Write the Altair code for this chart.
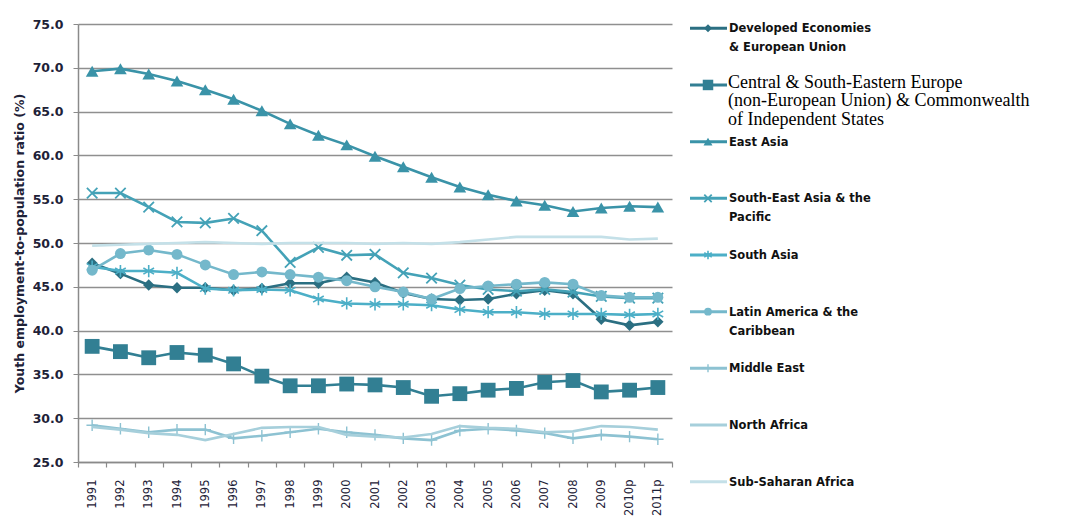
import altair as alt
import pandas as pd

years = ["1991", "1992", "1993", "1994", "1995", "1996", "1997", "1998", "1999", "2000",
         "2001", "2002", "2003", "2004", "2005", "2006", "2007", "2008", "2009", "2010p", "2011p"]

developed = [47.7, 46.5, 45.2, 44.9, 44.9, 44.6, 44.8, 45.4, 45.4, 46.1, 45.5, 44.3, 43.6, 43.5, 43.6, 44.2, 44.6, 44.2, 41.3, 40.6, 41.0]
central = [38.2, 37.6, 36.9, 37.5, 37.2, 36.2, 34.8, 33.7, 33.7, 33.9, 33.8, 33.5, 32.5, 32.8, 33.2, 33.4, 34.1, 34.3, 33.0, 33.2, 33.5]
east_asia = [69.6, 69.9, 69.3, 68.5, 67.5, 66.4, 65.1, 63.6, 62.3, 61.2, 59.9, 58.7, 57.5, 56.4, 55.5, 54.8, 54.3, 53.6, 54.0, 54.2, 54.1]
se_asia = [55.7, 55.7, 54.1, 52.4, 52.3, 52.8, 51.4, 47.8, 49.5, 48.6, 48.7, 46.6, 46.0, 45.2, 44.7, 44.5, 44.7, 44.4, 43.9, 43.7, 43.7]
south_asia = [47.3, 46.8, 46.8, 46.6, 44.8, 44.6, 44.7, 44.6, 43.6, 43.1, 43.0, 43.0, 42.9, 42.4, 42.1, 42.1, 41.9, 41.9, 41.9, 41.8, 41.9]
latam = [46.9, 48.8, 49.2, 48.7, 47.5, 46.4, 46.7, 46.4, 46.1, 45.7, 45.0, 44.4, 43.6, 44.8, 45.1, 45.3, 45.5, 45.3, 44.0, 43.8, 43.8]
middle_east = [29.2, 28.8, 28.4, 28.7, 28.7, 27.7, 28.0, 28.4, 28.8, 28.4, 28.1, 27.7, 27.5, 28.6, 28.8, 28.6, 28.3, 27.7, 28.1, 27.9, 27.6]
north_africa = [29.0, 28.7, 28.3, 28.1, 27.5, 28.2, 28.9, 29.0, 29.0, 28.1, 27.9, 27.8, 28.2, 29.1, 28.9, 28.8, 28.4, 28.5, 29.1, 29.0, 28.7]
ssa = [49.7, 49.8, 49.9, 50.0, 50.1, 50.0, 49.9, 50.0, 50.0, 50.0, 49.9, 50.0, 49.9, 50.1, 50.4, 50.7, 50.7, 50.7, 50.7, 50.4, 50.5]

series_names = ["Developed Economies & European Union",
                "Central & South-Eastern Europe (non-European Union) & Commonwealth of Independent States",
                "East Asia", "South-East Asia & the Pacific", "South Asia",
                "Latin America & the Caribbean", "Middle East", "North Africa", "Sub-Saharan Africa"]
series_values = [developed, central, east_asia, se_asia, south_asia, latam, middle_east, north_africa, ssa]
legend_lines = [["Developed Economies", "& European Union"],
                ["Central & South-Eastern Europe", "(non-European Union) & Commonwealth", "of Independent States"],
                ["East Asia"],
                ["South-East Asia & the", "Pacific"],
                ["South Asia"],
                ["Latin America & the", "Caribbean"],
                ["Middle East"],
                ["North Africa"],
                ["Sub-Saharan Africa"]]

colors = ["#2b6f82", "#327f93", "#3a93a8", "#44a2b7", "#4cafc7", "#74b8cb", "#8dc2d2", "#a6cfdb", "#c4e0e8"]
markers = [
    dict(shape="diamond", size=130, filled=True),
    dict(shape="square", size=220, filled=True),
    dict(shape="triangle-up", size=160, filled=True),
    dict(shape="M-1,-1L1,1M-1,1L1,-1", size=110, filled=False, strokeWidth=1.8),
    dict(shape="M0,-1L0,1M-0.87,-0.5L0.87,0.5M-0.87,0.5L0.87,-0.5", size=150, filled=False, strokeWidth=1.6),
    dict(shape="circle", size=120, filled=True),
    dict(shape="M0,-1L0,1M-1,0L1,0", size=130, filled=False, strokeWidth=1.4),
    None,
    None,
]

rows = []
for name, vals in zip(series_names, series_values):
    for yr, v in zip(years, vals):
        rows.append({"series": name, "year": yr, "value": v})
df = pd.DataFrame(rows)

FONT = "DejaVu Sans"
TXT = "#1e2238"

x_enc = alt.X("year:O", sort=years,
              scale=alt.Scale(type="band", paddingInner=0, paddingOuter=0),
              axis=alt.Axis(title=None, labelAngle=-90, tickBand="extent", labelFont=FONT,
                            labelFontSize=11.5, labelColor=TXT, labelPadding=12, tickSize=5,
                            tickColor="#8a8a8a", domainColor="#8a8a8a", domainWidth=1.5,
                            tickWidth=1.2, grid=False))
y_enc = alt.Y("value:Q", scale=alt.Scale(domain=[25, 75], nice=False, zero=False),
              axis=alt.Axis(values=list(range(25, 80, 5)), format=".1f",
                            title="Youth employment-to-population ratio (%)",
                            titleFont=FONT, titleFontSize=12.5, titleFontWeight="bold",
                            titleColor=TXT, titlePadding=6,
                            labelFont=FONT, labelFontSize=12.5, labelFontWeight="bold",
                            labelColor=TXT, labelPadding=10, tickSize=5,
                            tickColor="#8a8a8a", domainColor="#8a8a8a", domainWidth=1.5,
                            gridColor="#8f8f8f", gridWidth=1.3))

main_layers = []
for name, col, mk in zip(series_names, colors, markers):
    base = alt.Chart(df).transform_filter(alt.datum.series == name)
    main_layers.append(base.mark_line(color=col, strokeWidth=2.6).encode(x=x_enc, y=y_enc))
    if mk is not None:
        props = dict(mk)
        if props.get("filled"):
            pm = base.mark_point(color=col, opacity=1, **props)
        else:
            pm = base.mark_point(stroke=col, opacity=1, **props)
        main_layers.append(pm.encode(x=x_enc, y=y_enc))
main = alt.layer(*main_layers)

leg_rows = [{"series": n, "row": i, "label": l} for i, (n, l) in enumerate(zip(series_names, legend_lines))]
leg_data = alt.Data(values=leg_rows)
ly = alt.Y("row:Q", scale=alt.Scale(domain=[-0.0757, 7.653], nice=False, zero=False, reverse=True), axis=None)

legend_layers = []
for i, (name, col, mk) in enumerate(zip(series_names, colors, markers)):
    base = alt.Chart(leg_data).transform_filter(alt.datum.row == i)
    legend_layers.append(base.mark_rule(color=col, strokeWidth=3).encode(
        x=alt.value(612), x2=alt.value(649), y=ly))
    if mk is not None:
        props = dict(mk)
        props["size"] = props["size"] * 0.5
        if props.get("filled"):
            pm = base.mark_point(color=col, opacity=1, **props)
        else:
            pm = base.mark_point(stroke=col, opacity=1, **props)
        legend_layers.append(pm.encode(x=alt.value(630), y=ly))

sans_text = alt.Chart(leg_data).transform_filter(alt.datum.row != 1).mark_text(
    align="left", baseline="top", font=FONT, fontSize=11.5, fontWeight="bold",
    color="#111111", lineHeight=19, dy=-5).encode(x=alt.value(651), y=ly, text=alt.Text("label:N"))
serif_text = alt.Chart(leg_data).transform_filter(alt.datum.row == 1).mark_text(
    align="left", baseline="top", font="Liberation Serif", fontSize=18,
    color="#000000", lineHeight=18.5, dy=-11).encode(x=alt.value(650), y=ly, text=alt.Text("label:N"))
legend_layers += [sans_text, serif_text]
legend = alt.layer(*legend_layers)

chart = alt.layer(main, legend).resolve_scale(y="independent").properties(
    width=594, height=438,
    padding={"left": 5, "top": 10, "right": 0, "bottom": 0},
).configure_view(stroke=None)

chart.save("out.html", embed_options={"renderer": "svg", "actions": False})
